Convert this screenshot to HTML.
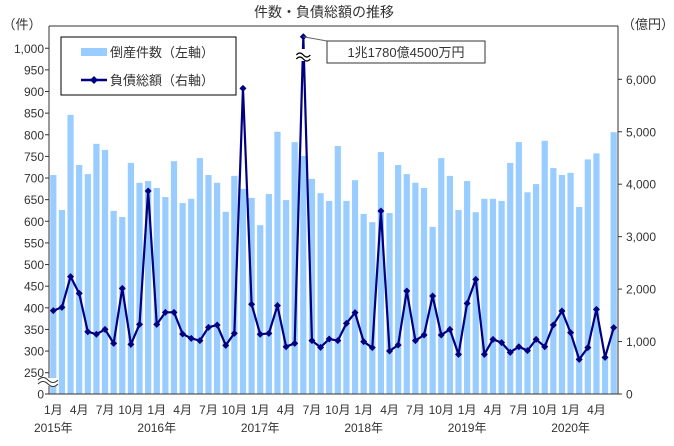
<!DOCTYPE html>
<html><head><meta charset="utf-8"><style>
body{margin:0;background:#fff;}
svg text{font-family:"Liberation Sans","Noto Sans CJK JP",sans-serif;fill:#333;}
</style></head><body>
<svg id="chart" width="674" height="441" viewBox="0 0 674 441" xmlns="http://www.w3.org/2000/svg">
<text x="324" y="17" font-size="14" text-anchor="middle">件数・負債総額の推移</text>
<text x="22" y="29" font-size="13" text-anchor="middle">（件）</text>
<text x="648" y="29" font-size="13" text-anchor="middle">（億円）</text>
<g id="bars"></g>
<g id="axes"></g>
<g id="line"></g>
<g>
<rect x="61" y="37" width="175" height="58" fill="#fff" stroke="#000" stroke-width="1"/>
<rect x="81" y="48" width="26" height="8" fill="#99ccff"/>
<text x="110" y="57" font-size="13">倒産件数（左軸）</text>
<line x1="81" y1="80" x2="107" y2="80" stroke="#000080" stroke-width="2.5"/>
<path d="M94 76 L98 80 L94 84 L90 80Z" fill="#000080"/>
<text x="110" y="85" font-size="13">負債総額（右軸）</text>
</g>
<g>
<rect x="327" y="41" width="158" height="22" fill="#fff" stroke="#333"/>
<text x="406" y="57" font-size="13" text-anchor="middle" fill="#000">1兆1780億4500万円</text>
</g>
<g id="xlabels"></g>
</svg>
<script>
const counts=[707,626,846,730,709,779,765,624,610,735,689,693,677,656,739,642,652,746,707,689,622,705,675,654,591,663,807,649,783,751,698,665,647,774,647,695,617,598,760,619,730,709,689,677,587,746,705,626,693,621,652,652,647,735,783,667,686,786,723,707,712,633,743,757,288,806];
const debt=[1589,1652,2237,1919,1188,1138,1233,966,2015,947,1328,3870,1328,1557,1557,1144,1061,1017,1271,1316,928,1157,5828,1710,1138,1157,1684,902,966,11780,1017,890,1049,1017,1347,1551,998,883,3489,820,934,1964,1017,1125,1868,1125,1233,756,1729,2186,756,1042,979,794,902,826,1042,902,1316,1582,1169,661,883,1614,699,1265];
const leftTicks=[0,250,300,350,400,450,500,550,600,650,700,750,800,850,900,950,1000];
const leftTickLabels=["0","250","300","350","400","450","500","550","600","650","700","750","800","850","900","950","1,000"];
const rightTicks=[0,1000,2000,3000,4000,5000,6000];
const rightTickLabels=["0","1,000","2,000","3,000","4,000","5,000","6,000"];
const monthLabels=["1月","4月","7月","10月"];
const years=["2015年","2016年","2017年","2018年","2019年","2020年"];
const NS="http://www.w3.org/2000/svg";
const X0=49,X1=618,Y0=394,YT=26;
const bw=(X1-X0)/counts.length;
function xc(i){return X0+bw*(i+0.5);}
function yL(v){return v<=0?Y0:(v<250?Y0-(v/250)*21.3:372.7-(v-250)*21.63/50);}
function yR(v){return Math.max(Y0-v*52.45/1000,36.7);}
function mk(tag,attrs,parent){const e=document.createElementNS(NS,tag);for(const k in attrs)e.setAttribute(k,attrs[k]);parent.appendChild(e);return e;}
const bars=document.getElementById('bars'),axes=document.getElementById('axes'),line=document.getElementById('line'),xl=document.getElementById('xlabels');
counts.forEach((v,i)=>{const y=yL(v);const r=mk('rect',{x:xc(i)-3.1,y:y,width:6.2,height:Y0-y,fill:'#99ccff'},bars);

});
mk('line',{x1:X0,y1:YT,x2:X1,y2:YT,stroke:'#333'},axes);
mk('line',{x1:X0,y1:YT,x2:X0,y2:Y0,stroke:'#333'},axes);
mk('line',{x1:X1,y1:YT,x2:X1,y2:Y0,stroke:'#333'},axes);
mk('line',{x1:X0,y1:Y0,x2:X1,y2:Y0,stroke:'#333'},axes);
leftTicks.forEach((v,i)=>{const y=yL(v);mk('line',{x1:X0-4,y1:y,x2:X0,y2:y,stroke:'#333'},axes);
const t=mk('text',{x:X0-5,y:y+4.5,'font-size':'12','text-anchor':'end'},axes);t.textContent=leftTickLabels[i];

});
rightTicks.forEach((v,i)=>{const y=Y0-v*52.45/1000;mk('line',{x1:X1,y1:y,x2:X1+4,y2:y,stroke:'#333'},axes);
const t=mk('text',{x:X1+8,y:y+4.5,'font-size':'12','text-anchor':'start'},axes);t.textContent=rightTickLabels[i];

});
// axis break
mk('rect',{x:36,y:378,width:22,height:8,fill:'#fff'},axes);
mk('path',{d:'M38 384 q5 -5 10 0 t10 0 M38 380 q5 -5 10 0 t10 0',stroke:'#333',fill:'none'},axes);
let pts=debt.map((v,i)=>xc(i)+','+yR(v)).join(' ');
mk('polyline',{points:pts,fill:'none',stroke:'#000080','stroke-width':'2.2'},line);
debt.forEach((v,i)=>{const x=xc(i),y=yR(v);const p=mk('path',{d:`M${x} ${y-3.5} L${x+3.5} ${y} L${x} ${y+3.5} L${x-3.5} ${y}Z`,fill:'#000080'},line);

});
const si=debt.indexOf(Math.max(...debt));const sx=xc(si);
mk('line',{x1:sx,y1:yR(debt[si]),x2:327,y2:41,stroke:'#666'},line);
mk('rect',{x:sx-8,y:49,width:16,height:12,fill:'#fff'},line);
mk('path',{d:`M${sx-7} 55 q3.5 -4 7 0 t7 0 M${sx-7} 59 q3.5 -4 7 0 t7 0`,stroke:'#000',fill:'none','stroke-width':'1.2'},line);
for(let i=0;i<counts.length;i+=3){const t=mk('text',{x:xc(i),y:414,'font-size':'12','text-anchor':'middle'},xl);t.textContent=monthLabels[(i/3)%4];

}
years.forEach((y,k)=>{const t=mk('text',{x:xc(k*12),y:432,'font-size':'12','text-anchor':'middle'},xl);t.textContent=y;

});
</script>
</body></html>
